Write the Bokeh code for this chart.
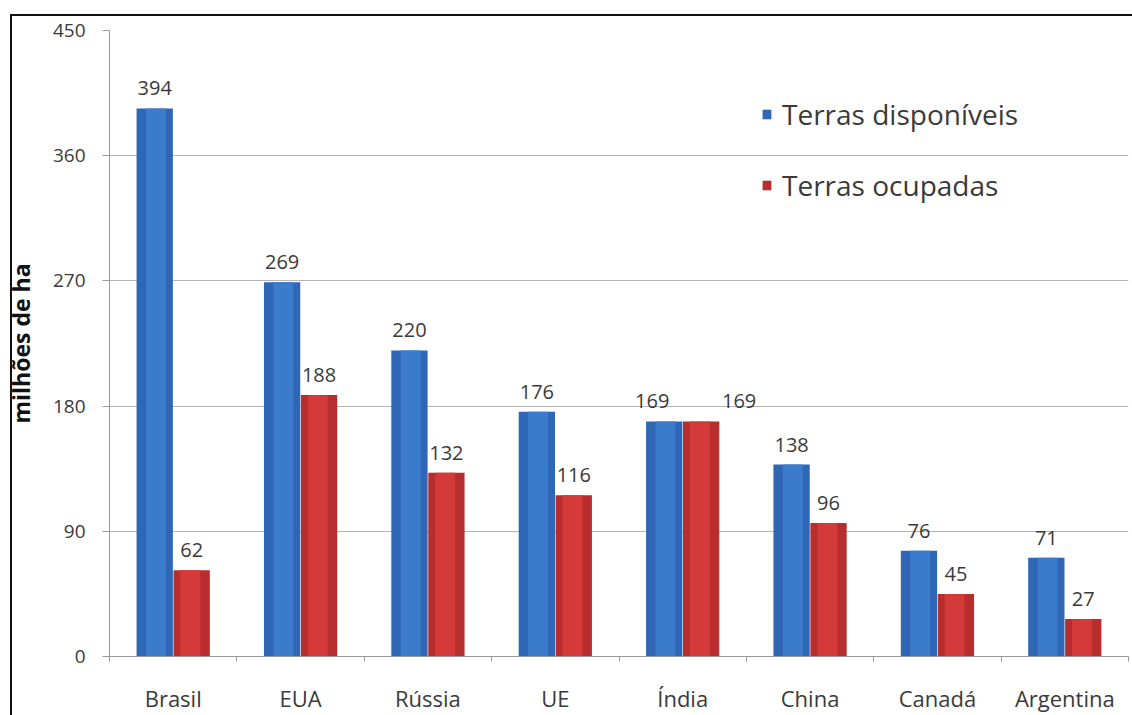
from bokeh.plotting import figure
from bokeh.models import Range1d, FixedTicker, Legend, LegendItem, ColumnDataSource
from bokeh.transform import dodge
from bokeh.embed import file_html
from bokeh.resources import INLINE

# Land area by country, millions of hectares
paises = ["Brasil", "EUA", "Rússia", "UE", "Índia", "China", "Canadá", "Argentina"]
disponiveis = [394, 269, 220, 176, 169, 138, 76, 71]
ocupadas = [62, 188, 132, 116, 169, 96, 45, 27]
y_ticks = [0, 90, 180, 270, 360, 450]

FONT = "Open Sans"
TXT = "#3a3a3a"

centers = [i + 0.5 for i in range(len(paises))]
# Where both bars are equally tall, push the two labels apart so they don't touch
tie = [a == b for a, b in zip(disponiveis, ocupadas)]
src = ColumnDataSource(dict(
    x=centers,
    disp=disponiveis,
    ocup=ocupadas,
    disp_lbl=[str(v) for v in disponiveis],
    ocup_lbl=[str(v) for v in ocupadas],
    disp_dx=[-12 if t else 0 for t in tie],
    ocup_dx=[38 if t else 0 for t in tie],
))

# Thin dark frame line on the top and left of the chart, painted behind the canvas
frame_css = {
    "background-color": "white",
    "background-image": "linear-gradient(#111, #111), linear-gradient(#111, #111)",
    "background-size": "2px 100%, 100% 2px",
    "background-position": "10px 14px, 10px 14px",
    "background-repeat": "no-repeat",
}

p = figure(
    width=1132, height=715,
    x_range=Range1d(0, len(paises)), y_range=Range1d(0, 450),
    output_backend="svg", toolbar_location=None,
    min_border_left=109, min_border_right=4, min_border_top=30, min_border_bottom=58,
    styles=frame_css,
)
p.outline_line_color = None
p.background_fill_color = "white"
p.border_fill_alpha = 0

off = 0.145
bw = 0.285

# Two-tone bars: darker body with a lighter inner band
r_disp = p.vbar(x=dodge("x", -off), top="disp", width=bw, source=src,
                fill_color="#2f66b6", line_color=None)
p.vbar(x=dodge("x", -off + 0.01), top="disp", width=bw * 0.55, source=src,
       fill_color="#3b7bcc", line_color=None)
r_ocup = p.vbar(x=dodge("x", off), top="ocup", width=bw, source=src,
                fill_color="#b82e2e", line_color=None)
p.vbar(x=dodge("x", off - 0.01), top="ocup", width=bw * 0.55, source=src,
       fill_color="#d43a3a", line_color=None)

# Value labels above bars
for col, lbl, dxcol, dx in (("disp", "disp_lbl", "disp_dx", -off),
                            ("ocup", "ocup_lbl", "ocup_dx", off)):
    p.text(x=dodge("x", dx), y=col, text=lbl, source=src,
           x_offset=dxcol, y_offset=-20,
           text_align="center", text_baseline="alphabetic",
           text_font_size="20px", text_color=TXT, text_font={"value": FONT})

# Axes
xa = p.xaxis[0]
xa.ticker = FixedTicker(ticks=centers, minor_ticks=list(range(len(paises) + 1)))
xa.major_label_overrides = {c: n for c, n in zip(centers, paises)}
xa.major_tick_in = 0
xa.major_tick_out = 0
xa.minor_tick_in = 0
xa.minor_tick_out = 5
xa.minor_tick_line_color = "#999999"
xa.axis_line_color = "#999999"
xa.major_label_text_font = FONT
xa.major_label_text_font_size = "22px"
xa.major_label_text_color = TXT
xa.major_label_standoff = 21

ya = p.yaxis[0]
ya.ticker = FixedTicker(ticks=y_ticks)
ya.minor_tick_line_color = None
ya.major_tick_in = 0
ya.major_tick_out = 7
ya.major_tick_line_color = "#999999"
ya.axis_line_color = "#999999"
ya.major_label_text_font = FONT
ya.major_label_text_font_size = "19px"
ya.major_label_text_color = TXT
ya.major_label_standoff = 17
ya.axis_label = "milhões de ha"
ya.axis_label_text_font = FONT
ya.axis_label_text_font_style = "bold"
ya.axis_label_text_font_size = "23px"
ya.axis_label_text_color = "#111111"
ya.axis_label_standoff = 13

p.xgrid.grid_line_color = None
p.ygrid.grid_line_color = "#b5b5b5"
p.ygrid.grid_line_width = 1

legend = Legend(
    items=[LegendItem(label="Terras disponíveis", renderers=[r_disp]),
           LegendItem(label="Terras ocupadas", renderers=[r_ocup])],
    location=(652, 452),
    border_line_color=None, background_fill_alpha=0,
    padding=0, margin=0, spacing=33,
    glyph_width=11, glyph_height=12, label_standoff=10,
    label_text_font=FONT, label_text_font_size="28px", label_text_color=TXT,
)
p.add_layout(legend)

open("out.html", "w").write(file_html(p, INLINE))
